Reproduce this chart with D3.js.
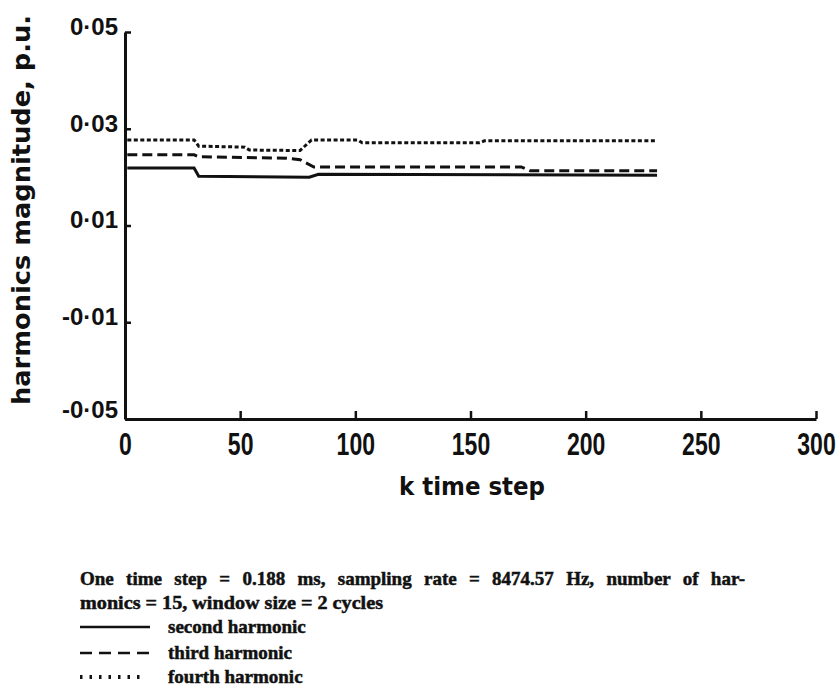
<!DOCTYPE html>
<html>
<head>
<meta charset="utf-8">
<script src="https://cdn.jsdelivr.net/npm/d3@7"></script>
<style>
  html, body { margin: 0; padding: 0; background: #fff; }
  svg { display: block; }
</style>
</head>
<body>
<svg id="chart" width="840" height="689"></svg>
<script>
// Harmonic magnitudes (p.u.) versus time step k
const kSecond = [1, 30, 32, 80, 84, 231];
const secondHarmonic = [0.0219, 0.0219, 0.0202, 0.0200, 0.0206, 0.0204];

const kThird = [1, 30, 32, 70, 76, 82, 172, 176, 231];
const thirdHarmonic = [0.0246, 0.0246, 0.0242, 0.0239, 0.0236, 0.0221, 0.0221, 0.0213, 0.0213];

const kFourth = [1, 30, 32, 52, 54, 76, 81, 101, 103, 154, 156, 231];
const fourthHarmonic = [0.0277, 0.0277, 0.0264, 0.0262, 0.0256, 0.0255, 0.0277, 0.0277, 0.0271, 0.0271, 0.0275, 0.0275];

const xTicks = [0, 50, 100, 150, 200, 250, 300];
const yTicks = [0.05, 0.03, 0.01, -0.01, -0.03];
const yTickLabels = ["0·05", "0·03", "0·01", "-0·01", "-0·05"];

const xTitle = "k time step";
const yTitle = "harmonics magnitude, p.u.";
const captionLines = [
  "One time step = 0.188 ms, sampling rate = 8474.57 Hz, number of har-",
  "monics = 15, window size = 2 cycles"
];
const legendLabels = ["second harmonic", "third harmonic", "fourth harmonic"];

const svg = d3.select("#chart");

const x = d3.scaleLinear().domain([0, 300]).range([125, 816]);
const y = d3.scaleLinear().domain([-0.03, 0.05]).range([419, 32]);

const tickFont = "'Liberation Sans', Arial, sans-serif";
const titleFont = "'DejaVu Sans', 'Liberation Sans', sans-serif";
const captionFont = "'Liberation Serif', 'Times New Roman', serif";

// x axis: ticks point up into the plot
const xAxis = svg.append("g")
  .attr("transform", `translate(0,${y(-0.03)})`)
  .call(d3.axisBottom(x).tickValues(xTicks).tickSize(-8).tickSizeOuter(0).tickPadding(13)
    .tickFormat(d3.format("d")));
xAxis.select(".domain").attr("stroke", "#111").attr("stroke-width", 3);
xAxis.selectAll(".tick line").attr("stroke", "#111").attr("stroke-width", 2.5);
xAxis.selectAll(".tick text")
  .attr("fill", "#111")
  .attr("font-family", tickFont)
  .attr("font-weight", "bold")
  .attr("font-size", 32)
  .attr("dy", "0.71em")
  .attr("transform", "scale(0.72,1)");

// y axis: ticks point right into the plot
const yAxis = svg.append("g")
  .attr("transform", `translate(${x(0)},0)`)
  .call(d3.axisLeft(y).tickValues(yTicks).tickSize(-6).tickSizeOuter(0).tickPadding(7)
    .tickFormat((d, i) => yTickLabels[i]));
yAxis.select(".domain").attr("stroke", "#111").attr("stroke-width", 3);
yAxis.selectAll(".tick line").attr("stroke", "#111").attr("stroke-width", 2.5);
yAxis.selectAll(".tick text")
  .attr("fill", "#111")
  .attr("font-family", tickFont)
  .attr("font-weight", "bold")
  .attr("font-size", 24)
  .attr("dy", "0.1em");
yAxis.select(".tick:last-of-type text").attr("dy", "-0.05em");

// Axis titles
svg.append("text")
  .attr("transform", `translate(30,${210}) rotate(-90)`)
  .attr("text-anchor", "middle")
  .attr("font-family", titleFont)
  .attr("font-weight", "bold")
  .attr("font-size", 25)
  .attr("fill", "#111")
  .attr("textLength", 390)
  .attr("lengthAdjust", "spacingAndGlyphs")
  .text(yTitle);

svg.append("text")
  .attr("x", 472)
  .attr("y", 495)
  .attr("text-anchor", "middle")
  .attr("font-family", titleFont)
  .attr("font-weight", "bold")
  .attr("font-size", 24)
  .attr("fill", "#111")
  .attr("textLength", 146)
  .attr("lengthAdjust", "spacingAndGlyphs")
  .text(xTitle);

// Series lines
const series = [
  { k: kSecond, v: secondHarmonic, dash: null, width: 3 },
  { k: kThird, v: thirdHarmonic, dash: "10,5", width: 3 },
  { k: kFourth, v: fourthHarmonic, dash: "4,2.5", width: 3 }
];
const line = d3.line().x(d => x(d[0])).y(d => y(d[1]));
series.forEach(s => {
  svg.append("path")
    .datum(s.k.map((k, i) => [k, s.v[i]]))
    .attr("d", line)
    .attr("fill", "none")
    .attr("stroke", "#111")
    .attr("stroke-width", s.width)
    .attr("stroke-dasharray", s.dash);
});

// Caption below the chart
const cap = svg.append("g")
  .attr("font-family", captionFont)
  .attr("font-weight", "bold")
  .attr("font-size", 19)
  .attr("fill", "#111")
  .attr("stroke", "#111")
  .attr("stroke-width", 0.5);

const l1 = cap.append("text").attr("x", 80).attr("y", 585).text(captionLines[0]);
// justify the first line by widening word gaps
const natural = l1.node().getComputedTextLength();
const gaps = captionLines[0].split(" ").length - 1;
l1.attr("word-spacing", Math.max(0, (665 - natural) / gaps));

cap.append("text").attr("x", 80).attr("y", 609)
  .attr("textLength", 303).attr("lengthAdjust", "spacingAndGlyphs")
  .text(captionLines[1]);

// Legend
const legendY = [633, 659, 683];
const legendDash = [null, "12,7", "2.5,7"];
const legendLen = [70, 70, 66];
legendLabels.forEach((lab, i) => {
  svg.append("line")
    .attr("x1", 80).attr("x2", 80 + legendLen[i])
    .attr("y1", legendY[i] - 6).attr("y2", legendY[i] - 6)
    .attr("stroke", "#111")
    .attr("stroke-width", i === 2 ? 4 : 2.5)
    .attr("stroke-dasharray", legendDash[i]);
  cap.append("text").attr("x", 168).attr("y", legendY[i]).text(lab);
});
</script>
</body>
</html>
